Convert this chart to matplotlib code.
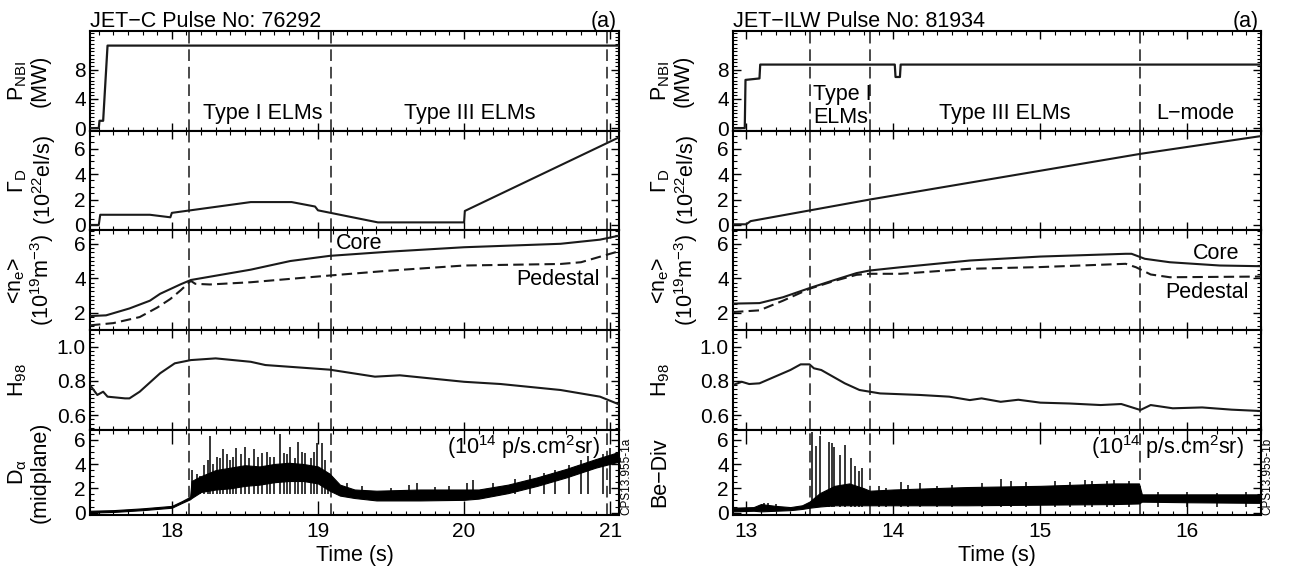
#!/usr/bin/env python3

import numpy as np
import matplotlib as mpl
import matplotlib.pyplot as plt
from matplotlib.ticker import MultipleLocator, FixedLocator, FormatStrFormatter

plt.rc('font', family='Liberation Sans')
mpl.rcParams['mathtext.fontset'] = 'custom'
mpl.rcParams['mathtext.rm'] = 'Liberation Sans'
mpl.rcParams['mathtext.it'] = 'Liberation Sans:italic'
mpl.rcParams['mathtext.bf'] = 'Liberation Sans:bold'

# ---------------- JET-C pulse 76292 (left) ----------------
c_xlim = (17.44, 21.06)
c_dashes = [18.12, 19.09, 20.98]

c_p_t = [17.44, 17.50, 17.505, 17.53, 17.56, 21.06]
c_p_v = [0.0, 0.0, 1.0, 1.0, 11.3, 11.3]

c_gam_t = [17.44, 17.50, 17.51, 17.85, 17.99, 18.0, 18.54, 18.82, 18.98, 19.0,
           19.41, 20.0, 20.005, 21.06]
c_gam_v = [0.0, 0.0, 0.8, 0.8, 0.6, 0.95, 1.8, 1.8, 1.45, 1.15,
           0.2, 0.2, 1.1, 6.9]

c_core_t = [17.44, 17.55, 17.71, 17.85, 17.92, 18.06, 18.13, 18.54, 18.81, 19.08, 19.5,
            20.0, 20.66, 20.93, 21.06]
c_core_v = [1.81, 1.85, 2.25, 2.7, 3.1, 3.65, 3.9, 4.5, 5.0, 5.3, 5.55,
            5.8, 6.0, 6.24, 6.47]
c_ped_t = [17.44, 17.6, 17.78, 17.9, 17.99, 18.06, 18.13, 18.16, 18.26, 18.54, 19.08,
           19.5, 20.0, 20.66, 20.8, 21.06]
c_ped_v = [1.27, 1.4, 1.75, 2.3, 2.8, 3.3, 3.85, 3.68, 3.64, 3.77, 4.16,
           4.45, 4.74, 4.83, 4.93, 5.57]

c_h98_t = [17.44, 17.49, 17.53, 17.56, 17.68, 17.71, 17.78, 17.92, 18.02, 18.13, 18.3,
           18.54, 18.64, 19.08, 19.39, 19.56, 20.0, 20.25, 20.66, 20.93, 21.06]
c_h98_v = [0.776, 0.718, 0.737, 0.708, 0.698, 0.698, 0.737, 0.845, 0.903, 0.922, 0.932,
           0.912, 0.893, 0.866, 0.825, 0.833, 0.795, 0.782, 0.747, 0.708, 0.663]

# D-alpha: envelope of the trace plus the visible ELM spikes
c_da_t = [17.44, 17.6, 17.8, 18.0, 18.07, 18.125, 18.135, 18.2, 18.3, 18.4, 18.5, 18.6,
          18.7, 18.8, 18.9, 19.0, 19.08, 19.15, 19.25, 19.4, 19.7, 20.0, 20.1, 20.3,
          20.5, 20.7, 20.9, 21.06]
c_da_lo = [0.0, 0.05, 0.2, 0.4, 0.8, 1.1, 1.2, 1.7, 1.9, 2.0, 2.2, 2.3,
           2.5, 2.6, 2.6, 2.4, 1.8, 1.4, 1.2, 1.0, 1.0, 1.05, 1.15, 1.6,
           2.2, 2.9, 3.7, 4.2]
c_da_hi = [0.15, 0.2, 0.35, 0.55, 0.95, 1.3, 2.6, 3.0, 3.5, 3.7, 3.9, 3.8,
           4.0, 4.1, 4.0, 3.8, 3.2, 2.3, 1.9, 1.8, 1.9, 1.9, 1.9, 2.3,
           2.9, 3.6, 4.4, 5.0]
c_spk_t = [18.14, 18.17, 18.19, 18.22, 18.25, 18.26, 18.28, 18.31, 18.33, 18.35, 18.38,
           18.40, 18.42, 18.44, 18.47, 18.50, 18.53, 18.56, 18.59, 18.62, 18.65, 18.67,
           18.70, 18.74, 18.77, 18.79, 18.81, 18.84, 18.86, 18.89, 18.91, 18.95, 18.97,
           18.99, 19.03, 19.05, 19.07,
           19.2, 19.3, 19.5, 19.62, 19.68, 19.8, 19.9, 20.02, 20.06, 20.2, 20.35, 20.45,
           20.55, 20.62, 20.72, 20.8, 20.85, 20.95, 21.0]
c_spk_v = [3.5, 3.2, 3.0, 3.9, 4.3, 6.3, 4.0, 4.6, 4.5, 5.2, 4.8,
           4.3, 4.6, 5.3, 4.8, 5.4, 4.5, 5.2, 4.6, 4.9, 5.0, 4.6,
           4.6, 6.5, 4.9, 4.8, 5.4, 4.5, 5.8, 5.0, 4.9, 4.5, 5.0,
           5.7, 5.7, 4.3, 3.3,
           2.4, 2.2, 2.0, 2.3, 2.4, 2.1, 2.2, 2.4, 2.7, 2.4, 2.8, 3.1,
           3.3, 3.5, 3.9, 4.3, 4.7, 4.8, 5.3]

# ---------------- JET-ILW pulse 81934 (right) ----------------
w_xlim = (12.91, 16.5)
w_dashes = [13.435, 13.84, 15.68]

w_p_t = [12.91, 12.99, 12.995, 13.09, 13.095, 14.01, 14.015, 14.045, 14.05, 16.5]
w_p_v = [0.0, 0.0, 6.6, 6.8, 8.7, 8.7, 7.0, 7.0, 8.7, 8.7]

w_gam_t = [12.91, 13.0, 13.03, 13.84, 15.68, 16.5]
w_gam_v = [0.05, 0.05, 0.3, 2.0, 5.6, 7.0]

w_core_t = [12.91, 13.09, 13.25, 13.43, 13.6, 13.75, 13.84, 14.05, 14.52, 15.0, 15.58,
            15.62, 15.71, 15.88, 16.22, 16.5]
w_core_v = [2.53, 2.56, 2.9, 3.43, 3.9, 4.3, 4.45, 4.64, 5.03, 5.26, 5.42,
            5.42, 5.13, 4.93, 4.74, 4.7]
w_ped_t = [12.91, 13.09, 13.25, 13.43, 13.6, 13.75, 13.84, 14.05, 14.52, 15.0, 15.58,
           15.65, 15.75, 15.88, 16.5]
w_ped_v = [2.04, 2.14, 2.7, 3.39, 3.85, 4.2, 4.26, 4.26, 4.55, 4.65, 4.84,
           4.64, 4.22, 4.06, 4.1]

w_h98_t = [12.91, 12.97, 13.02, 13.09, 13.30, 13.37, 13.43, 13.46, 13.51, 13.67, 13.77,
           13.84, 13.91, 14.18, 14.38, 14.52, 14.6, 14.73, 14.85, 15.0, 15.2, 15.41,
           15.55, 15.68, 15.75, 15.9, 16.1, 16.3, 16.5]
w_h98_v = [0.776, 0.795, 0.782, 0.786, 0.864, 0.897, 0.897, 0.874, 0.864, 0.786, 0.747,
           0.737, 0.727, 0.718, 0.708, 0.688, 0.698, 0.678, 0.69, 0.673, 0.668, 0.659,
           0.665, 0.63, 0.659, 0.64, 0.645, 0.632, 0.624]

w_da_t = [12.91, 13.05, 13.1, 13.2, 13.3, 13.38, 13.43, 13.5, 13.6, 13.7, 13.8, 13.84,
          14.0, 14.5, 15.0, 15.5, 15.67, 15.69, 16.0, 16.5]
w_da_lo = [0.1, 0.15, 0.1, 0.15, 0.2, 0.3, 0.4, 0.5, 0.6, 0.6, 0.6, 0.6,
           0.6, 0.6, 0.65, 0.7, 0.75, 0.9, 0.85, 0.8]
w_da_hi = [0.4, 0.45, 0.7, 0.55, 0.45, 0.6, 0.9, 1.6, 2.2, 2.4, 2.0, 1.8,
           1.9, 2.1, 2.2, 2.4, 2.4, 1.5, 1.5, 1.5]
w_spk_t = [13.12, 13.15, 13.2, 13.45, 13.475, 13.50, 13.56, 13.58, 13.60, 13.64, 13.67,
           13.71, 13.74, 13.77, 13.79, 13.9, 13.95, 14.05, 14.1, 14.18, 14.3, 14.4, 14.6,
           14.73, 14.8, 14.9, 15.1, 15.2, 15.3, 15.35, 15.45, 15.5, 15.6, 15.8, 16.0,
           16.2, 16.4]
w_spk_v = [0.75, 0.8, 0.7, 6.6, 5.5, 6.3, 5.8, 5.7, 5.4, 4.75, 5.6,
           4.5, 3.8, 3.4, 3.7, 2.2, 2.0, 2.5, 2.3, 2.4, 2.2, 2.3, 2.4,
           2.8, 2.6, 2.5, 2.6, 2.5, 2.7, 2.6, 2.6, 2.7, 2.6, 1.7, 1.7,
           1.6, 1.7]

# Figure layout (pixel edges of the panels)
W, H = 1291, 570
fig = plt.figure(figsize=(W/100, H/100), dpi=100)
cols = [(90, 619), (733, 1261)]
rows = [31, 131, 230, 330, 430, 515]
fs = 15.5

ylabels = [
    ["P$_\\mathregular{NBI}$\n(MW)", "Γ$_\\mathregular{D}$\n(10$^\\mathregular{22}$el/s)",
     "<n$_\\mathregular{e}$>\n(10$^\\mathregular{19}$m$^\\mathregular{-3}$)", "H$_\\mathregular{98}$",
     "D$_\\mathregular{α}$\n(midplane)"],
    ["P$_\\mathregular{NBI}$\n(MW)", "Γ$_\\mathregular{D}$\n(10$^\\mathregular{22}$el/s)",
     "<n$_\\mathregular{e}$>\n(10$^\\mathregular{19}$m$^\\mathregular{-3}$)", "H$_\\mathregular{98}$",
     "Be\u2212Div"],
]
# ylim, labelled ticks, minor step, format
yconf = [((-0.4, 13.3), [0, 4, 8], 0.5, '%d'),
         ((-0.4, 7.4), [0, 2, 4, 6], 0.5, '%d'),
         ((1.0, 6.8), [2, 4, 6], 0.25, '%d'),
         ((0.513, 1.098), [0.6, 0.8, 1.0], 0.025, '%.1f'),
         ((-0.2, 6.8), [0, 2, 4, 6], 0.5, '%d')]

lc = '#1a1a1a'
dash_c = '#4a4a4a'

pulses = [
    dict(xlim=c_xlim, dashes=c_dashes, p=(c_p_t, c_p_v), gam=(c_gam_t, c_gam_v),
         core=(c_core_t, c_core_v), ped=(c_ped_t, c_ped_v), h98=(c_h98_t, c_h98_v),
         da=(c_da_t, c_da_lo, c_da_hi), spk=(c_spk_t, c_spk_v), spk_base=1.5,
         title="JET\u2212C Pulse No: 76292", code="CPS13.955-1a"),
    dict(xlim=w_xlim, dashes=w_dashes, p=(w_p_t, w_p_v), gam=(w_gam_t, w_gam_v),
         core=(w_core_t, w_core_v), ped=(w_ped_t, w_ped_v), h98=(w_h98_t, w_h98_v),
         da=(w_da_t, w_da_lo, w_da_hi), spk=(w_spk_t, w_spk_v), spk_base=0.5,
         title="JET\u2212ILW Pulse No: 81934", code="CPS13.955-1b"),
]

all_axes = []
for c, (x0, x1) in enumerate(cols):
    d = pulses[c]
    axes = []
    for i in range(5):
        ax = fig.add_axes([x0/W, 1 - rows[i+1]/H, (x1 - x0)/W, (rows[i+1] - rows[i])/H])
        axes.append(ax)
    all_axes.append(axes)

    axes[0].plot(*d['p'], color=lc, lw=1.6, zorder=3)
    axes[1].plot(*d['gam'], color=lc, lw=1.5, zorder=3)
    axes[2].plot(*d['core'], color=lc, lw=1.5, zorder=3)
    axes[2].plot(*d['ped'], color=lc, lw=1.5, dashes=(5, 2.5), zorder=3)
    axes[3].plot(*d['h98'], color=lc, lw=1.5, zorder=3)
    t, lo, hi = d['da']
    axes[4].fill_between(t, lo, hi, color='black', lw=0.8, zorder=3)
    axes[4].vlines(d['spk'][0], d['spk_base'], d['spk'][1], color='black', lw=1.1, zorder=3)

    for i, ax in enumerate(axes):
        ylim, ticks, minor, fmt = yconf[i]
        ax.set_xlim(d['xlim'])
        ax.set_ylim(ylim)
        for td in d['dashes']:
            ax.axvline(td, color=dash_c, lw=1.4, dashes=(6, 3), zorder=2)
        ax.yaxis.set_major_locator(FixedLocator(ticks))
        ax.yaxis.set_minor_locator(MultipleLocator(minor))
        ax.yaxis.set_major_formatter(FormatStrFormatter(fmt))
        ax.xaxis.set_major_locator(MultipleLocator(1))
        ax.xaxis.set_minor_locator(MultipleLocator(0.1))
        ax.xaxis.set_major_formatter(FormatStrFormatter('%d'))
        for s in ax.spines.values():
            s.set_linewidth(1.5)
        ax.tick_params(axis='both', which='both', direction='in', right=True, top=True)
        ax.tick_params(axis='both', which='major', length=6, width=1.0, labelsize=15, pad=3)
        ax.tick_params(axis='both', which='minor', length=3, width=0.8)
        if i < 4:
            ax.tick_params(labelbottom=False)
        ax.set_ylabel(ylabels[c][i], fontsize=fs, va='top', linespacing=1.05)
        ax.yaxis.set_label_coords(-0.158, 0.5)

    axes[4].set_xlabel('Time (s)', fontsize=fs, labelpad=3)
    axes[4].tick_params(axis='x', which='major', length=10, pad=5)

    axes[0].text(0.0, 1.04, d['title'], fontsize=fs, ha='left', va='baseline',
                 transform=axes[0].transAxes)
    axes[0].text(0.996, 1.04, '(a)', fontsize=fs, ha='right', va='baseline',
                 transform=axes[0].transAxes)
    axes[4].text(1.013, 0.0, d['code'], fontsize=8.5, rotation=90, ha='center', va='bottom',
                 transform=axes[4].transAxes)

# Annotations
ac, aw = all_axes
ac[0].text(18.62, 2.05, 'Type I ELMs', fontsize=fs, ha='center', va='center')
ac[0].text(20.04, 2.05, 'Type III ELMs', fontsize=fs, ha='center', va='center')
ac[2].text(19.28, 6.0, 'Core', fontsize=fs, ha='center', va='center')
ac[2].text(20.93, 3.93, 'Pedestal', fontsize=fs, ha='right', va='center')
ac[4].text(20.93, 5.4, '(10$^\\mathregular{14}$ p/s.cm$^\\mathregular{2}$sr)', fontsize=fs,
           ha='right', va='center')

aw[0].text(13.455, 3.0, 'Type I\nELMs', fontsize=fs, ha='left', va='center', linespacing=1.1)
aw[0].text(14.76, 2.05, 'Type III ELMs', fontsize=fs, ha='center', va='center')
aw[0].text(16.05, 2.05, 'L\u2212mode', fontsize=fs, ha='center', va='center')
aw[2].text(16.35, 5.43, 'Core', fontsize=fs, ha='right', va='center')
aw[2].text(16.42, 3.18, 'Pedestal', fontsize=fs, ha='right', va='center')
aw[4].text(16.38, 5.4, '(10$^\\mathregular{14}$ p/s.cm$^\\mathregular{2}$sr)', fontsize=fs,
           ha='right', va='center')

fig.savefig('out.png', dpi=100)
